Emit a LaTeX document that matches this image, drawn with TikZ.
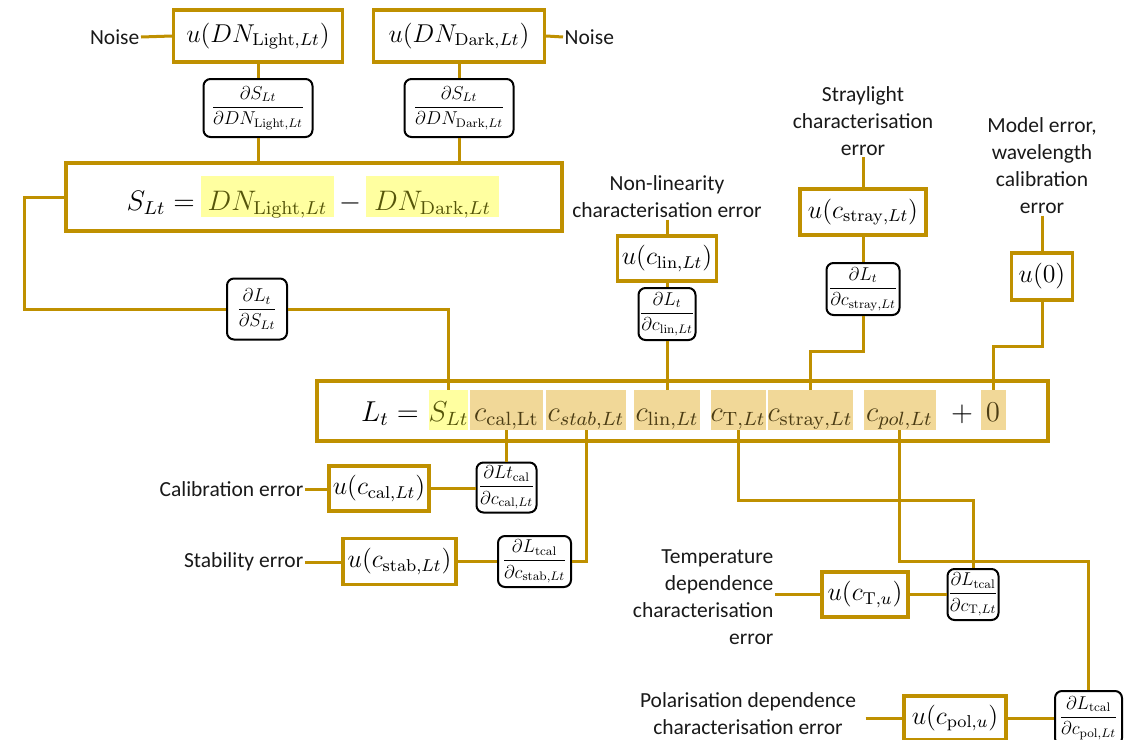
\documentclass[tikz,border=0pt]{standalone}
\usepackage[no-math]{fontspec}
\usepackage{graphicx}
\newfontfamily\labfont{Carlito}
\usetikzlibrary{calc}
\definecolor{gold}{RGB}{191,144,0}
\definecolor{hly}{RGB}{255,255,160}
\definecolor{hlt}{RGB}{241,216,152}
\definecolor{olivetxt}{RGB}{85,85,10}
\definecolor{browntxt}{RGB}{75,60,20}
\newcommand\EqS[1]{\scalebox{2.35}{$#1$}}
\newcommand\EqM[1]{\scalebox{2.4}{$#1$}}
\newcommand\UM[1]{\scalebox{2.15}{$#1$}}
\newcommand\DM[1]{\scalebox{1.55}{$\displaystyle #1$}}
\begin{document}
\begin{tikzpicture}[x=1pt,y=-1pt,
  ubox/.style={draw=gold, line width=3.2pt, inner sep=0pt, font=\fontsize{12}{14}\selectfont},
  bigbox/.style={draw=gold, line width=3.2pt, inner sep=0pt},
  dbox/.style={draw=black, line width=2pt, rounded corners=7pt, inner sep=0pt, font=\fontsize{12}{14}\selectfont},
  lab/.style={font=\labfont\fontsize{21.5}{27}\selectfont, inner sep=1.5pt, text=black!90},
  conn/.style={draw=gold, line width=3pt},
  eqtxt/.style={inner sep=0pt, font=\fontsize{12}{14}\selectfont},
  hlS/.style={eqtxt, fill=hly, text=olivetxt, text height=34pt, text depth=7pt},
  hlL/.style={eqtxt, fill=hlt, text=browntxt, text height=31pt, text depth=9pt},
  hlLy/.style={eqtxt, fill=hly, text=olivetxt, text height=31pt, text depth=9pt},
]
\useasboundingbox (0,0) rectangle (1126,739);

% ---------- top part ----------
\node[lab, anchor=east] (noiseL) at (141,37) {Noise};
\node[lab, anchor=west] (noiseR) at (563,37) {Noise};
\node[ubox, minimum width=169pt, minimum height=52pt] (uLight) at (258,36) {\UM{u(DN_{\mathrm{Light},Lt})}};
\node[ubox, minimum width=171pt, minimum height=52pt] (uDark) at (459,36) {\UM{u(DN_{\mathrm{Dark},Lt})}};
\node[dbox, minimum width=109pt, minimum height=58pt] (dLight) at (258,108) {\DM{\frac{\partial S_{Lt}}{\partial DN_{\mathrm{Light},Lt}}}};
\node[dbox, minimum width=109pt, minimum height=58pt] (dDark) at (459,108) {\DM{\frac{\partial S_{Lt}}{\partial DN_{\mathrm{Dark},Lt}}}};

\node[bigbox, minimum width=496pt, minimum height=68pt] (Sbox) at (314,197) {};
\node[eqtxt, anchor=base east] (Seq) at (195,210) {\EqS{S_{Lt} =}};
\node[hlS, minimum width=133pt, anchor=base] (DNL) at (267.5,210) {\EqS{DN_{\mathrm{Light},Lt}}};
\node[eqtxt, anchor=base] (minus) at (350,210) {\EqS{-}};
\node[hlS, minimum width=133pt, anchor=base] (DND) at (432.5,210) {\EqS{DN_{\mathrm{Dark},Lt}}};

\node[dbox, minimum width=60pt, minimum height=61pt] (dS) at (257,309) {\DM{\frac{\partial L_t}{\partial S_{Lt}}}};

% ---------- upper right ----------
\node[lab, align=center] (nonlin) at (667,197) {Non-linearity\\characterisation error};
\node[ubox, minimum width=99pt, minimum height=45pt] (ulin) at (667,258.5) {\UM{u(c_{\mathrm{lin},Lt})}};
\node[dbox, minimum width=57pt, minimum height=52pt] (dlin) at (667,314) {\DM{\frac{\partial L_t}{\partial c_{\mathrm{lin},Lt}}}};

\node[lab, align=center] (strayLab) at (863,121) {Straylight\\characterisation\\error};
\node[ubox, minimum width=126pt, minimum height=46pt] (ustray) at (863,212) {\UM{u(c_{\mathrm{stray},Lt})}};
\node[dbox, minimum width=73pt, minimum height=52pt] (dstray) at (863,289) {\DM{\frac{\partial L_t}{\partial c_{\mathrm{stray},Lt}}}};

\node[lab, align=center] (modelLab) at (1042,166) {Model error,\\wavelength\\calibration\\error};
\node[ubox, minimum width=61pt, minimum height=47pt] (u0) at (1042,276.5) {\UM{u(0)}};

% ---------- L equation ----------
\node[bigbox, minimum width=731pt, minimum height=60pt] (Lbox) at (682.5,411) {};
\node[eqtxt, anchor=base east] (Leq) at (419,421) {\EqM{L_t =}};
\node[hlLy, minimum width=37pt, anchor=base] (SLt) at (448.5,421) {\EqM{S_{Lt}}};
\node[hlL, minimum width=73pt, anchor=base] (ccal) at (506.5,421) {\EqM{c_{\mathrm{cal,Lt}}}};
\node[hlL, minimum width=80pt, anchor=base] (cstab) at (586,421) {\EqM{c_{stab,Lt}}};
\node[hlL, minimum width=66pt, anchor=base] (clin) at (667,421) {\EqM{c_{\mathrm{lin},Lt}}};
\node[hlL, minimum width=54pt, anchor=base] (cT) at (738,421) {\EqM{c_{\mathrm{T},Lt}}};
\node[hlL, minimum width=85pt, anchor=base] (cstray) at (810,421) {\EqM{c_{\mathrm{stray},Lt}}};
\node[hlL, minimum width=72pt, anchor=base] (cpol) at (899.5,421) {\EqM{c_{pol,Lt}}};
\node[eqtxt, anchor=base] (plus) at (962,421) {\EqM{+}};
\node[hlL, minimum width=25pt, anchor=base] (zero) at (993,421) {\EqM{0}};

% ---------- bottom left ----------
\node[lab, anchor=east] (calLab) at (305,489) {Calibration error};
\node[ubox, minimum width=100pt, minimum height=45pt] (ucal) at (379,488.5) {\UM{u(c_{\mathrm{cal},Lt})}};
\node[dbox, minimum width=60pt, minimum height=50pt] (dcal) at (506.5,487.5) {\DM{\frac{\partial Lt_{\mathrm{cal}}}{\partial c_{\mathrm{cal},Lt}}}};

\node[lab, anchor=east] (stabLab) at (305,562) {Stability error};
\node[ubox, minimum width=113pt, minimum height=46pt] (ustab) at (399.5,561.5) {\UM{u(c_{\mathrm{stab},Lt})}};
\node[dbox, minimum width=73pt, minimum height=51pt] (dstab) at (534.5,561.5) {\DM{\frac{\partial L_{\mathrm{tcal}}}{\partial c_{\mathrm{stab},Lt}}}};

% ---------- bottom right ----------
\node[lab, align=right, anchor=east] (tempLab) at (775,597) {Temperature\\dependence\\characterisation\\error};
\node[ubox, minimum width=86pt, minimum height=45pt] (uT) at (865,594.5) {\UM{u(c_{\mathrm{T},u})}};
\node[dbox, minimum width=51pt, minimum height=51pt] (dT) at (973,594.5) {\DM{\frac{\partial L_{\mathrm{tcal}}}{\partial c_{\mathrm{T},Lt}}}};

\node[lab, align=center] (polLab) at (748,714) {Polarisation dependence\\characterisation error};
\node[ubox, minimum width=102pt, minimum height=44pt] (upol) at (955,718) {\UM{u(c_{\mathrm{pol},u})}};
\node[dbox, minimum width=67pt, minimum height=54pt] (dpol) at (1088.5,718) {\DM{\frac{\partial L_{\mathrm{tcal}}}{\partial c_{\mathrm{pol},Lt}}}};

% ---------- bends ----------
\coordinate (strayBend) at (810,351);
\coordinate (zeroBend) at (993,346);
\coordinate (tBend) at (973,500);
\coordinate (pBend) at (1088.5,561);

% ---------- connectors ----------
\draw[conn] (noiseL.east) -- (uLight.west);
\draw[conn] (uDark.east) -- (noiseR.west);
\draw[conn] (uLight.south) -- (dLight.north);
\draw[conn] (dLight.south) -- (dLight.south |- Sbox.north);
\draw[conn] (uDark.south) -- (dDark.north);
\draw[conn] (dDark.south) -- (dDark.south |- Sbox.north);
\draw[conn] (Sbox.west) -- ++(-40,0) |- (dS.west);
\draw[conn] (dS.east) -| (SLt.north);

\draw[conn] (ulin.north |- nonlin.south) -- (ulin.north);
\draw[conn] (ulin.south) -- (dlin.north);
\draw[conn] (dlin.south) -- (clin.north);

\draw[conn] (ustray.north |- strayLab.south) -- (ustray.north);
\draw[conn] (ustray.south) -- (dstray.north);
\draw[conn] (dstray.south) |- (strayBend) -- (cstray.north);

\draw[conn] (u0.north |- modelLab.south) -- (u0.north);
\draw[conn] (u0.south) |- (zeroBend) -- (zero.north);

\draw[conn] (calLab.east) -- (calLab.east -| ucal.west);
\draw[conn] (ucal.east) -- (ucal.east -| dcal.west);
\draw[conn] (ccal.south) -- (dcal.north);

\draw[conn] (stabLab.east) -- (stabLab.east -| ustab.west);
\draw[conn] (ustab.east) -- (dstab.west);
\draw[conn] (cstab.south) |- (dstab.east);

\draw[conn] (tempLab.east |- uT.west) -- (uT.west);
\draw[conn] (uT.east) -- (dT.west);
\draw[conn] (cT.south) |- (tBend) -- (dT.north);

\draw[conn] ($(polLab.east |- upol.west)+(8,0)$) -- (upol.west);
\draw[conn] (upol.east) -- (dpol.west);
\draw[conn] (cpol.south) |- (pBend) -- (dpol.north);
\end{tikzpicture}
\end{document}
